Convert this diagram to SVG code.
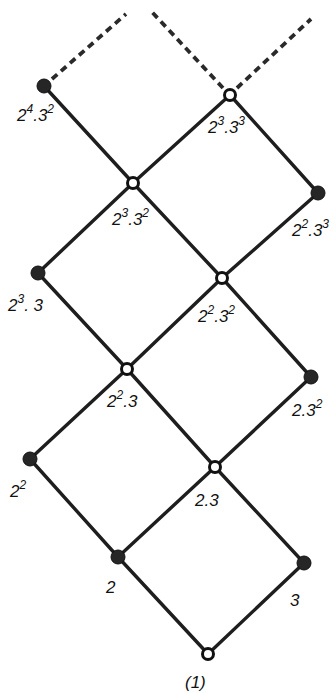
<svg xmlns="http://www.w3.org/2000/svg" width="336" height="693" viewBox="0 0 336 693">
<style>
.e{stroke:#1e1e1e;stroke-width:3.4;fill:none;stroke-linecap:round}
.d{stroke:#2a2a2a;stroke-width:3.8;fill:none;stroke-dasharray:7 5}
.f{fill:#262626;stroke:#111;stroke-width:1}
.o{fill:#fff;stroke:#111;stroke-width:3}
text{font-family:"Liberation Sans",Arial,sans-serif;font-style:italic;font-size:17px;fill:#111}
.s{font-size:12px}
</style>
<rect width="336" height="693" fill="#fff"/>
<g id="connectors">
<line class="e" x1="208" y1="654" x2="118" y2="557"/>
<line class="e" x1="208" y1="654" x2="304" y2="563"/>
<line class="e" x1="118" y1="557" x2="30" y2="459"/>
<line class="e" x1="118" y1="557" x2="215" y2="467"/>
<line class="e" x1="304" y1="563" x2="215" y2="467"/>
<line class="e" x1="30" y1="459" x2="127" y2="369"/>
<line class="e" x1="215" y1="467" x2="127" y2="369"/>
<line class="e" x1="215" y1="467" x2="311" y2="377"/>
<line class="e" x1="311" y1="377" x2="222" y2="278"/>
<line class="e" x1="127" y1="369" x2="38" y2="273"/>
<line class="e" x1="127" y1="369" x2="222" y2="278"/>
<line class="e" x1="38" y1="273" x2="133" y2="183"/>
<line class="e" x1="222" y1="278" x2="133" y2="183"/>
<line class="e" x1="222" y1="278" x2="318" y2="193"/>
<line class="e" x1="318" y1="193" x2="230" y2="95"/>
<line class="e" x1="133" y1="183" x2="44" y2="86"/>
<line class="e" x1="133" y1="183" x2="230" y2="95"/>
<line class="d" x1="52" y1="79" x2="126" y2="14"/>
<line class="d" x1="223" y1="88" x2="151" y2="11"/>
<line class="d" x1="237" y1="88" x2="311" y2="19"/>
</g>
<g id="n1"><circle class="o" cx="208" cy="654" r="5.5"/><text x="185" y="688">(1)</text></g>
<g id="n2"><circle class="f" cx="118" cy="557" r="7"/><text x="106" y="593">2</text></g>
<g id="n3"><circle class="f" cx="304" cy="563" r="7"/><text x="290" y="606">3</text></g>
<g id="n4"><circle class="f" cx="30" cy="459" r="7"/><text x="10" y="497">2<tspan class="s" dy="-8">2</tspan></text></g>
<g id="n6"><circle class="o" cx="215" cy="467" r="5.5"/><text x="195" y="506">2.3</text></g>
<g id="n12"><circle class="o" cx="127" cy="369" r="5.5"/><text x="107" y="407">2<tspan class="s" dy="-8">2</tspan><tspan dy="8">.3</tspan></text></g>
<g id="n18"><circle class="f" cx="311" cy="377" r="7"/><text x="292" y="416">2.3<tspan class="s" dy="-8">2</tspan></text></g>
<g id="n24"><circle class="f" cx="38" cy="273" r="7"/><text x="8" y="311">2<tspan class="s" dy="-8">3</tspan><tspan dy="8">. 3</tspan></text></g>
<g id="n36"><circle class="o" cx="222" cy="278" r="5.5"/><text x="198" y="322">2<tspan class="s" dy="-8">2</tspan><tspan dy="8">.3</tspan><tspan class="s" dy="-8">2</tspan></text></g>
<g id="n72"><circle class="o" cx="133" cy="183" r="5.5"/><text x="112" y="225">2<tspan class="s" dy="-8">3</tspan><tspan dy="8">.3</tspan><tspan class="s" dy="-8">2</tspan></text></g>
<g id="n108"><circle class="f" cx="318" cy="193" r="7"/><text x="292" y="236">2<tspan class="s" dy="-8">2</tspan><tspan dy="8">.3</tspan><tspan class="s" dy="-8">3</tspan></text></g>
<g id="n144"><circle class="f" cx="44" cy="86" r="7"/><text x="17" y="121">2<tspan class="s" dy="-8">4</tspan><tspan dy="8">.3</tspan><tspan class="s" dy="-8">2</tspan></text></g>
<g id="n216"><circle class="o" cx="230" cy="95" r="5.5"/><text x="208" y="133">2<tspan class="s" dy="-8">3</tspan><tspan dy="8">.3</tspan><tspan class="s" dy="-8">3</tspan></text></g>
</svg>
